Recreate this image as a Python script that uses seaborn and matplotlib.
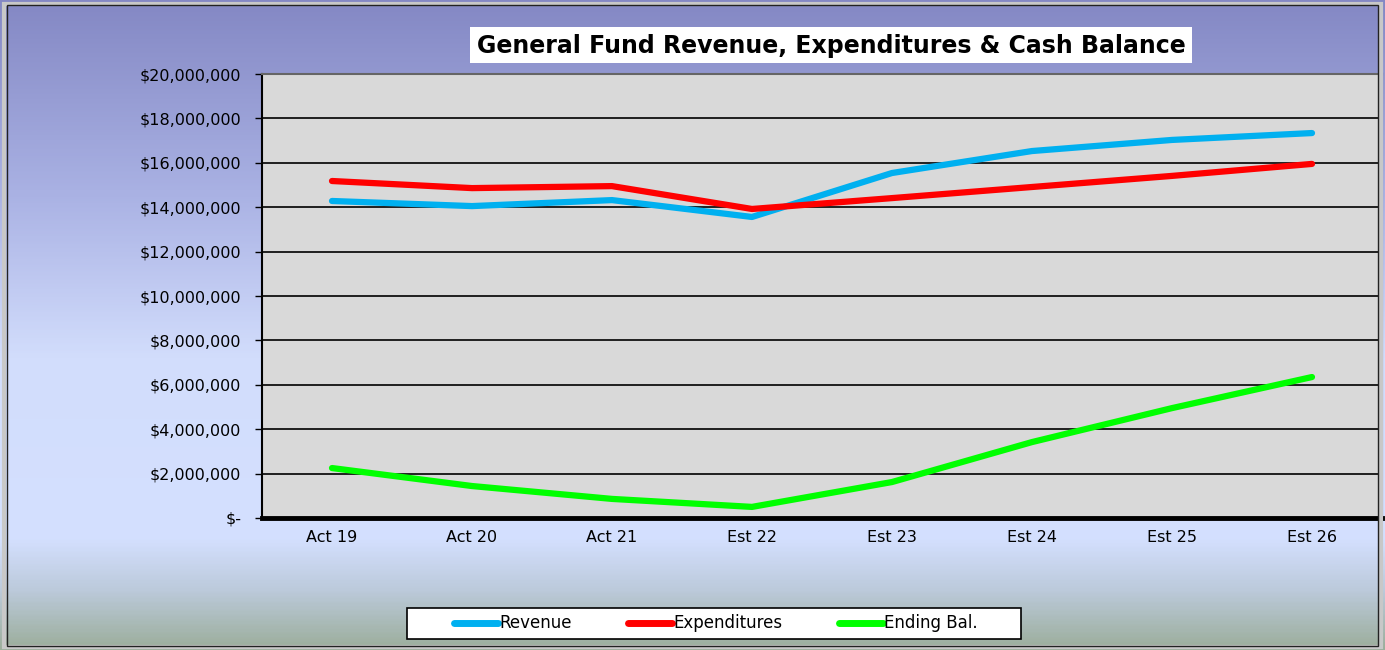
import numpy as np
import pandas as pd
import seaborn as sns
from matplotlib import pyplot as plt
from matplotlib.colors import LinearSegmentedColormap
from matplotlib.patches import Rectangle
from matplotlib.ticker import FuncFormatter, MultipleLocator
from matplotlib.lines import Line2D

years = ['Act 19', 'Act 20', 'Act 21', 'Est 22', 'Est 23', 'Est 24', 'Est 25', 'Est 26']
revenue = [14.28, 14.05, 14.32, 13.56, 15.54, 16.53, 17.03, 17.34]
expenditures = [15.18, 14.86, 14.95, 13.92, 14.41, 14.91, 15.41, 15.95]
ending_bal = [2.25, 1.44, 0.86, 0.50, 1.62, 3.42, 4.95, 6.35]
series_names = ['Revenue', 'Expenditures', 'Ending Bal.']
colors = ['#00b0f0', '#ff0000', '#00ff00']

df = pd.DataFrame({'year': years * 3,
                   'value': np.array(revenue + expenditures + ending_bal) * 1e6,
                   'series': np.repeat(series_names, len(years))})
df['x'] = np.tile(np.arange(len(years)), 3)

sns.set_style('white')
plt.rcParams['font.family'] = ['DejaVu Sans']

W, H = 1385, 650
fig = plt.figure(figsize=(13.85, 6.5), dpi=100)

# background gradient
bg = fig.add_axes([0, 0, 1, 1], zorder=-10)
cmap = LinearSegmentedColormap.from_list('bg', [
    (0.0, '#8488c4'), (0.3, '#aab2e4'), (0.55, '#d2ddfc'),
    (0.83, '#d4e0ff'), (0.91, '#bccadb'), (1.0, '#9cae9c')])
grad = np.linspace(0, 1, 400).reshape(-1, 1)
bg.imshow(grad, aspect='auto', cmap=cmap, extent=[0, 1, 0, 1], origin='upper')
bg.set_xlim(0, 1)
bg.set_ylim(0, 1)
bg.axis('off')

# figure frame
fig.patches.append(Rectangle((0.003, 0.004), 0.994, 0.99, transform=fig.transFigure,
                             fill=False, edgecolor='#c8c8c8', linewidth=3, zorder=5))
fig.patches.append(Rectangle((0.005, 0.006), 0.99, 0.986, transform=fig.transFigure,
                             fill=False, edgecolor='#222222', linewidth=1, zorder=6))

ax = fig.add_axes([262 / W, 1 - 518 / H, 1120 / W, 444 / H])
ax.set_facecolor('#d9d9d9')

sns.lineplot(data=df, x='x', y='value', hue='series', palette=colors,
             hue_order=series_names, linewidth=4.5, ax=ax, legend=False,
             solid_capstyle='round', zorder=3)

ax.set_xlim(-0.5, 7.5)
ax.set_ylim(0, 20e6)
ax.yaxis.set_major_locator(MultipleLocator(2e6))
ax.yaxis.set_major_formatter(FuncFormatter(
    lambda v, p: '$-' if v == 0 else '${:,.0f}'.format(v)))
ax.set_xticks(range(len(years)))
ax.set_xticklabels(years)
ax.set_xticks(np.arange(-0.5, 7.0, 1), minor=True)
ax.tick_params(axis='x', which='major', length=0, pad=9, labelsize=11.5, colors='black')
ax.tick_params(axis='x', which='minor', length=3, width=2, direction='in', color='black')
ax.tick_params(axis='y', length=5, width=1, direction='out', labelsize=11.5,
               pad=10, colors='black', left=True)
ax.grid(axis='y', color='black', linewidth=1.2)
ax.set_axisbelow(True)
ax.set_xlabel('')
ax.set_ylabel('')
for side in ['top', 'right']:
    ax.spines[side].set_color('#666666')
    ax.spines[side].set_linewidth(1.5)
ax.spines['left'].set_color('black')
ax.spines['left'].set_linewidth(1.5)
ax.spines['bottom'].set_color('black')
ax.spines['bottom'].set_linewidth(3.5)

# title in a white box
fig.patches.append(Rectangle((470 / W, 1 - 63 / H), 722 / W, 36 / H, transform=fig.transFigure,
                             facecolor='white', edgecolor='none', zorder=2))
fig.text(831 / W, 1 - 45.5 / H, 'General Fund Revenue, Expenditures & Cash Balance',
         ha='center', va='center', fontsize=17, fontweight='bold', color='black', zorder=3)

# legend box
fig.patches.append(Rectangle((407 / W, 1 - 639 / H), 614 / W, 31 / H, transform=fig.transFigure,
                             facecolor='white', edgecolor='black', linewidth=1.2, zorder=2))
handles = [Line2D([], [], color=c, linewidth=5, solid_capstyle='round') for c in colors]
leg = fig.legend(handles, series_names, loc='center', bbox_to_anchor=(716 / W, 1 - 623.5 / H),
                 ncol=3, frameon=False, fontsize=12, handlelength=2.6,
                 handletextpad=0.1, columnspacing=3.4)
for t in leg.get_texts():
    t.set_color('black')

plt.savefig('out.png', dpi=100)
plt.close()
